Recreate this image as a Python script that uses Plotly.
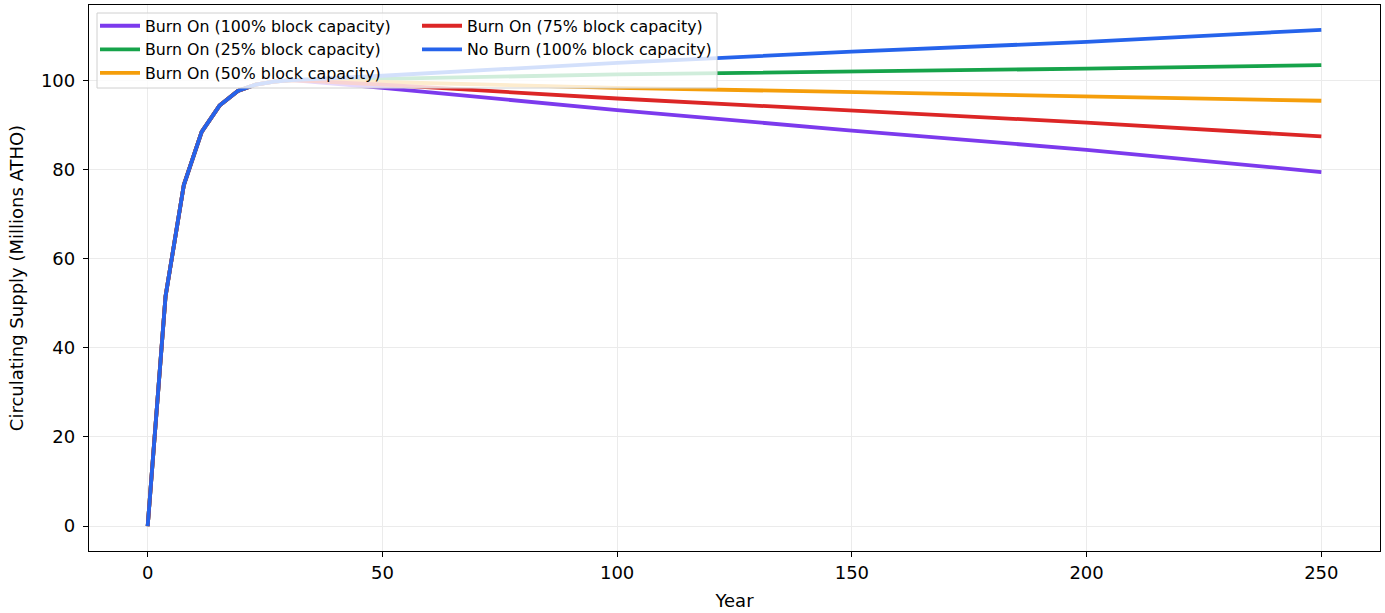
import plotly.graph_objects as go

years = [0, 3.8, 7.7, 11.5, 15.3, 19.2, 23.0, 26.9, 30.7, 50, 100, 150, 200, 250]

burn_100 = [0, 51.5, 76.5, 88.4, 94.3, 97.6, 99.0, 99.7, 100.0, 98.3, 93.3, 88.7, 84.4, 79.4]
burn_25 = [0, 51.5, 76.5, 88.4, 94.3, 97.6, 99.0, 99.7, 100.0, 100.3, 101.3, 101.9, 102.6, 103.4]
burn_50 = [0, 51.5, 76.5, 88.4, 94.3, 97.6, 99.0, 99.7, 100.0, 99.6, 98.3, 97.4, 96.4, 95.4]
burn_75 = [0, 51.5, 76.5, 88.4, 94.3, 97.6, 99.0, 99.7, 100.0, 99.0, 95.9, 93.1, 90.5, 87.4]
no_burn = [0, 51.5, 76.5, 88.4, 94.3, 97.6, 99.0, 99.7, 100.0, 101.0, 103.9, 106.4, 108.6, 111.3]

names = ["Burn On (100% block capacity)", "Burn On (25% block capacity)",
         "Burn On (50% block capacity)", "Burn On (75% block capacity)",
         "No Burn (100% block capacity)"]
series = [burn_100, burn_25, burn_50, burn_75, no_burn]
colors = ["#7c3aed", "#16a34a", "#f59e0b", "#dc2626", "#2563eb"]
legends = ["legend", "legend", "legend", "legend2", "legend2"]

FONT = "DejaVu Sans"
W, H = 1385, 613
L, R, T, B = 89, 5, 5, 62
pw, ph = W - L - R, H - T - B

def px_x(p):
    return (p - L) / pw

def px_y(p):
    return (H - B - p) / ph

fig = go.Figure()
for name, vals, col, lg in zip(names, series, colors, legends):
    fig.add_trace(go.Scatter(x=years, y=vals, mode="lines", name=name,
                             line=dict(color=col, width=3.8), legend=lg))

ymax = max(max(s) for s in series)
ymin = 0
pad = (ymax - ymin) * 0.05

axis_common = dict(showline=True, linecolor="black", linewidth=1.3, mirror=True,
                   ticks="outside", ticklen=5, tickwidth=1.2, tickcolor="black",
                   showgrid=True, gridcolor="#ebebeb", gridwidth=1, zeroline=False,
                   tickfont=dict(family=FONT, size=18, color="black"))

fig.update_layout(
    width=W, height=H,
    margin=dict(l=L, r=R, t=T, b=B),
    paper_bgcolor="white", plot_bgcolor="white",
    font=dict(family=FONT, color="black"),
    xaxis=dict(range=[-12.5, 262.5], tickvals=[0, 50, 100, 150, 200, 250],
               title=dict(text="Year", font=dict(family=FONT, size=18), standoff=12),
               **axis_common),
    yaxis=dict(range=[ymin - pad, ymax + pad], tickvals=[0, 20, 40, 60, 80, 100],
               ticklabelstandoff=4,
               title=dict(text="Circulating Supply (Millions ATHO)", font=dict(family=FONT, size=18), standoff=12),
               **axis_common),
    legend=dict(x=px_x(95), y=px_y(9), xanchor="left", yanchor="top",
                bgcolor="rgba(0,0,0,0)", borderwidth=0, itemwidth=40,
                font=dict(family=FONT, size=15.8, color="black"), tracegroupgap=0),
    legend2=dict(x=px_x(417), y=px_y(9), xanchor="left", yanchor="top",
                 bgcolor="rgba(0,0,0,0)", borderwidth=0, itemwidth=40,
                 font=dict(family=FONT, size=15.8, color="black"), tracegroupgap=0),
    shapes=[dict(type="rect", xref="paper", yref="paper",
                 x0=px_x(97), x1=px_x(717), y0=px_y(88), y1=px_y(13),
                 fillcolor="rgba(255,255,255,0.8)", line=dict(color="#d0d0d0", width=1),
                 layer="above")],
)

fig.write_html("out.html", config={"displayModeBar": False},
               post_script="document.body.style.margin='0';document.body.style.overflow='hidden';")
